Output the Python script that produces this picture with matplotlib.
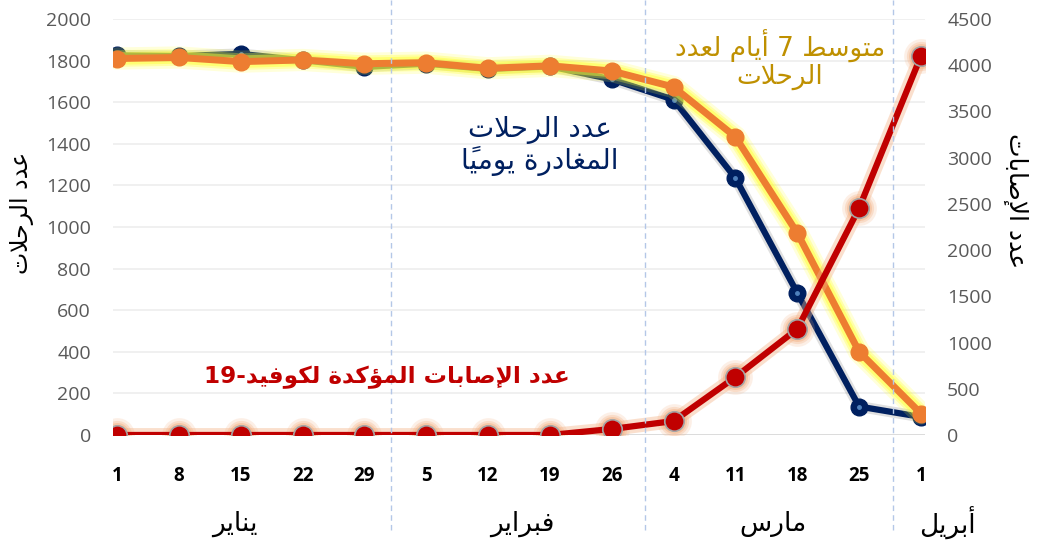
import re

import matplotlib
matplotlib.use('Agg')
from matplotlib import pyplot as plt
from matplotlib.lines import Line2D

# data
day_labels = ['1', '8', '15', '22', '29', '5', '12', '19', '26', '4', '11', '18', '25', '1']
month_names = ['يناير', 'فبراير', 'مارس', 'أبريل']
daily_flights = [1825, 1822, 1832, 1802, 1770, 1785, 1760, 1772, 1710, 1612, 1235, 683, 137, 87]
flights_7day_avg = [1810, 1815, 1795, 1803, 1785, 1790, 1763, 1775, 1750, 1673, 1433, 971, 400, 103]
covid_cases = [0, 0, 0, 0, 0, 0, 0, 0, 65, 151, 627, 1147, 2455, 4100]

NAVY = '#002060'
ORANGE = '#ED7D31'
RED = '#C00000'
GOLD = '#BF9000'
TICK_GRAY = '#595959'
AR_FONT = ['DejaVu Sans']
NUM_FONT = ['Open Sans', 'DejaVu Sans']

# minimal arabic shaping: isolated, final, (initial, medial)
AR_FORMS = {
    'ا': ('\ufe8d', '\ufe8e'),
    'أ': ('\ufe83', '\ufe84'),
    'إ': ('\ufe87', '\ufe88'),
    'ؤ': ('\ufe85', '\ufe86'),
    'ب': ('\ufe8f', '\ufe90', '\ufe91', '\ufe92'),
    'ة': ('\ufe93', '\ufe94'),
    'ت': ('\ufe95', '\ufe96', '\ufe97', '\ufe98'),
    'ح': ('\ufea1', '\ufea2', '\ufea3', '\ufea4'),
    'د': ('\ufea9', '\ufeaa'),
    'ر': ('\ufead', '\ufeae'),
    'س': ('\ufeb1', '\ufeb2', '\ufeb3', '\ufeb4'),
    'ص': ('\ufeb9', '\ufeba', '\ufebb', '\ufebc'),
    'ط': ('\ufec1', '\ufec2', '\ufec3', '\ufec4'),
    'ع': ('\ufec9', '\ufeca', '\ufecb', '\ufecc'),
    'غ': ('\ufecd', '\ufece', '\ufecf', '\ufed0'),
    'ف': ('\ufed1', '\ufed2', '\ufed3', '\ufed4'),
    'ك': ('\ufed9', '\ufeda', '\ufedb', '\ufedc'),
    'ل': ('\ufedd', '\ufede', '\ufedf', '\ufee0'),
    'م': ('\ufee1', '\ufee2', '\ufee3', '\ufee4'),
    'ن': ('\ufee5', '\ufee6', '\ufee7', '\ufee8'),
    'و': ('\ufeed', '\ufeee'),
    'ي': ('\ufef1', '\ufef2', '\ufef3', '\ufef4'),
}
LAM_ALEF = {'ا': ('\ufefb', '\ufefc'), 'أ': ('\ufef7', '\ufef8'), 'إ': ('\ufef9', '\ufefa')}
MARKS = set(chr(c) for c in range(0x064B, 0x0653))


def _shape_line(text):
    def joins_back(i):
        j = i - 1
        while j >= 0 and text[j] in MARKS:
            j -= 1
        return j >= 0 and text[j] in AR_FORMS and len(AR_FORMS[text[j]]) == 4

    def has_next(i):
        j = i + 1
        while j < len(text) and text[j] in MARKS:
            j += 1
        return j < len(text) and text[j] in AR_FORMS

    out = []
    i = 0
    while i < len(text):
        c = text[i]
        if c not in AR_FORMS:
            out.append(c)
            i += 1
            continue
        back = joins_back(i)
        if c == 'ل' and i + 1 < len(text) and text[i + 1] in LAM_ALEF:
            out.append(LAM_ALEF[text[i + 1]][1 if back else 0])
            i += 2
            continue
        forms = AR_FORMS[c]
        fwd = len(forms) == 4 and has_next(i)
        if back and fwd:
            out.append(forms[3])
        elif back:
            out.append(forms[1])
        elif fwd:
            out.append(forms[2])
        else:
            out.append(forms[0])
        i += 1
    # visual order: reverse, keep digit runs and marks with their base
    tokens = re.findall(r'[0-9]+|.[\u064b-\u0652]*', ''.join(out))
    return ''.join(reversed(tokens))


def ar(text):
    return '\n'.join(_shape_line(line) for line in text.split('\n'))


fig = plt.figure(figsize=(10.41, 5.46), dpi=100)
ax = fig.add_axes([113 / 1041, 1 - 435 / 546, 812 / 1041, 416 / 546])
ax2 = ax.twinx()

x = list(range(len(day_labels)))

# daily flights (navy)
ax.plot(x, daily_flights, color='#000000', lw=8, alpha=0.12, solid_capstyle='round', zorder=2)
ax.plot(x, daily_flights, color=NAVY, lw=4.5, marker='o', ms=12, mfc=NAVY, mec=NAVY, zorder=3)
ax.plot(x, daily_flights, ls='none', marker='o', ms=2.5, color='#4F81BD', zorder=3.1)

# 7-day average (orange with yellow glow)
for lw, a in [(16, 0.18), (12, 0.3), (9, 0.45)]:
    ax.plot(x, flights_7day_avg, color='#FFFF33', lw=lw, alpha=a, solid_capstyle='round',
            solid_joinstyle='round', zorder=4)
ax.plot(x, flights_7day_avg, color=ORANGE, lw=5, marker='o', ms=12, mfc=ORANGE, mec=ORANGE, zorder=5)

# confirmed cases (red with orange glow), secondary axis
for ms, a in [(25, 0.2), (21, 0.3), (18, 0.45)]:
    ax2.plot(x, covid_cases, ls='none', marker='o', ms=ms, color='#F4B183', alpha=a, mew=0, zorder=2)
ax2.plot(x, covid_cases, color='#F4B183', lw=10, alpha=0.4, solid_capstyle='round', zorder=2)
ax2.plot(x, covid_cases, color=RED, lw=4.5, marker='o', ms=14, mfc=RED, mec='#A5A5A5', mew=1.2, zorder=3)

ax.set_xlim(-0.065, 13.065)
ax.set_ylim(0, 2000)
ax2.set_ylim(0, 4500)
ax.set_yticks(range(0, 2001, 200))
ax2.set_yticks(range(0, 4501, 500))
ax.set_xticks(x)
ax.set_xticklabels(day_labels, fontfamily=NUM_FONT, fontweight='bold', fontsize=13.5, color='black')
ax.tick_params(axis='x', length=0, pad=22)
ax.tick_params(axis='y', length=0, pad=16, labelsize=14, labelcolor=TICK_GRAY)
ax2.tick_params(axis='y', length=0, pad=16, labelsize=14, labelcolor=TICK_GRAY)
for lab in ax.get_yticklabels() + ax2.get_yticklabels():
    lab.set_fontfamily(NUM_FONT)

ax.grid(axis='y', color='#EDEDED', lw=1.2)
ax.axhline(0, color='#D9D9D9', lw=1.2, zorder=1)
ax.set_axisbelow(True)
for a in (ax, ax2):
    for s in a.spines.values():
        s.set_visible(False)

# month separators running down through the labels
for sep in [4.43, 8.54, 12.55]:
    xf = (113 + (sep + 0.065) * 812 / 13.13) / 1041
    fig.add_artist(Line2D([xf, xf], [1 - 530 / 546, 1.0], color='#B4C7E7', lw=1, ls=(0, (4, 3))))

month_pos = [1.91, 6.55, 10.6, 13.42]
for name, pos in zip(month_names, month_pos):
    ax.text(pos, -0.213, ar(name), transform=ax.get_xaxis_transform(), ha='center', va='center',
            fontsize=19, fontfamily=AR_FONT, color='black', clip_on=False)

# axis titles
fig.text(22 / 1041, 1 - 213 / 546, ar('عدد الرحلات'), rotation=90, ha='center', va='center',
         fontsize=17, fontfamily=AR_FONT, color='black')
fig.text(1016 / 1041, 1 - 201 / 546, ar('عدد الإصابات'), rotation=-90, ha='center', va='center',
         fontsize=18, fontfamily=AR_FONT, color='black')

# series annotations
fig.text(540 / 1041, 1 - 146 / 546, ar('عدد الرحلات\nالمغادرة يومياً'), ha='center', va='center',
         fontsize=20, fontfamily=AR_FONT, color=NAVY, linespacing=1.1)
fig.text(780 / 1041, 1 - 60 / 546, ar('متوسط 7 أيام لعدد\nالرحلات'), ha='center', va='center',
         fontsize=19, fontfamily=AR_FONT, color=GOLD, linespacing=1.05)
fig.text(387 / 1041, 1 - 377 / 546, ar('عدد الإصابات المؤكدة لكوفيد-19'), ha='center', va='center',
         fontsize=16.7, fontfamily=AR_FONT, fontweight='bold', color=RED)

fig.savefig('out.png', dpi=100)
